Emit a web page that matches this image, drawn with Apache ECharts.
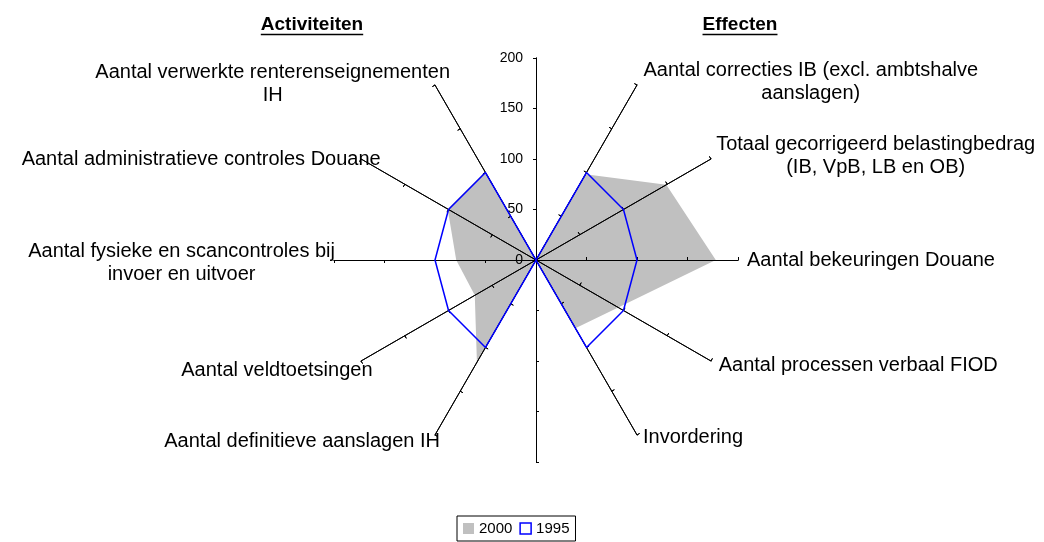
<!DOCTYPE html>
<html>
<head>
<meta charset="utf-8">
<script src="https://cdn.jsdelivr.net/npm/echarts@6/dist/echarts.min.js"></script>
<style>
  html, body { margin: 0; padding: 0; background: #fff; }
  #chart { width: 1044px; height: 542px; }
</style>
</head>
<body>
<div id="chart"></div>
<script>
// spokes clockwise from the top, as in the original; the two vertical spokes carry no name
const categories = [
  '',
  'Aantal correcties IB (excl. ambtshalve\naanslagen)',
  'Totaal gecorrigeerd belastingbedrag\n(IB, VpB, LB en OB)',
  'Aantal bekeuringen Douane',
  'Aantal processen verbaal FIOD',
  'Invordering',
  '',
  'Aantal definitieve aanslagen IH',
  'Aantal veldtoetsingen',
  'Aantal fysieke en scancontroles bij\ninvoer en uitvoer',
  'Aantal administratieve controles Douane',
  'Aantal verwerkte renterenseignementen\nIH'
];
const values2000 = [0, 98, 149, 178, 94, 78, 0, 117, 70, 79, 101, 101];
const values1995 = [0, 100, 100, 100, 100, 100, 0, 100, 100, 100, 100, 100];
const axisMax = 200;
const axisStep = 50;
const titles = ['Activiteiten', 'Effecten'];

const FONT = '"Liberation Sans", Arial, sans-serif';
// echarts lays radar spokes out counter-clockwise, so flip everything after the first
const ccw = arr => [arr[0]].concat(arr.slice(1).reverse());

// excel puts the names a bit off the spoke direction; nudge them [dx, dy]
const nameGaps = [0, 7, 6, 9, 9, 8, 0, 0, -4, 1, -10, -8];
const nameNudge = [[0, 0], [3, 3], [0, 0], [0, 0], [0, 0], [2, -4],
                   [0, 0], [5, 7], [8, 11], [2, 3], [11, -5], [11, -8]];
const nudgePadding = i => {
  const [dx, dy] = nameNudge[i];
  const top = Math.max(2 * dy, 0), bottom = Math.max(-2 * dy, 0);
  // right half is left-aligned, left half right-aligned
  return i < 6 ? [top, 0, bottom, dx] : [top, -dx, bottom, 0];
};

const measure = (text, font) => {
  const ctx = document.createElement('canvas').getContext('2d');
  ctx.font = font;
  return ctx.measureText(text).width;
};

function makeRadar(withNames, tickInside) {
  return {
    center: [536, 260],
    radius: 202,
    startAngle: 90,
    splitNumber: axisMax / axisStep,
    shape: 'polygon',
    z: 2,
    indicator: ccw(categories.map((name, i) => ({
      name: withNames ? name : '',
      min: 0,
      max: axisMax,
      nameGap: nameGaps[i],
      nameTextStyle: { padding: nudgePadding(i) },
      axisLabel: (withNames && i === 0)
        ? { show: true, color: '#000', fontSize: 14, fontFamily: FONT, margin: 13 }
        : { show: false }
    }))),
    axisName: {
      show: withNames,
      color: '#000',
      fontSize: 20,
      fontFamily: FONT,
      formatter: name => name ? name.split('\n').map(l => '{c|' + l + '}').join('\n') : '',
      rich: {
        c: { align: 'center', fontSize: 20, lineHeight: 23, fontFamily: FONT, color: '#000' }
      }
    },
    axisLine: { show: true, lineStyle: { color: '#000', width: 1 } },
    axisTick: { show: true, inside: tickInside, length: 3, lineStyle: { color: '#000', width: 1 } },
    axisLabel: { show: false },
    splitLine: { show: false },
    splitArea: { show: false }
  };
}

const titleFont = 'bold 19px "Liberation Sans", Arial, sans-serif';
const titleX = [312, 740];
const titleGraphics = [];
titles.forEach((t, i) => {
  const w = measure(t, titleFont);
  titleGraphics.push({
    type: 'text', left: titleX[i] - w / 2, top: 15,
    style: { text: t, font: titleFont, fill: '#000' }
  });
  titleGraphics.push({
    type: 'line',
    shape: { x1: titleX[i] - w / 2, y1: 34.5, x2: titleX[i] + w / 2, y2: 34.5 },
    style: { stroke: '#000', lineWidth: 1.5 }
  });
});

const chart = echarts.init(document.getElementById('chart'), null, { renderer: 'canvas' });
chart.setOption({
  animation: false,
  backgroundColor: '#fff',
  textStyle: { fontFamily: FONT },
  radar: [makeRadar(true, false), makeRadar(false, true)],
  legend: {
    data: [
      { name: '2000', itemStyle: { color: '#c0c0c0' } },
      { name: '1995', itemStyle: { color: '#fff', borderColor: '#0000ff', borderWidth: 1.5 } }
    ],
    left: 457,
    bottom: 1,
    icon: 'rect',
    itemWidth: 11,
    itemHeight: 11,
    itemGap: 7,
    padding: [5, 6],
    borderColor: '#000',
    borderWidth: 1,
    selectedMode: false,
    textStyle: { fontSize: 15, color: '#000', fontFamily: FONT }
  },
  graphic: titleGraphics,
  series: [
    {
      type: 'radar',
      radarIndex: 0,
      z: 1,
      symbol: 'none',
      silent: true,
      data: [{
        name: '2000',
        value: ccw(values2000),
        itemStyle: { color: '#c0c0c0' },
        lineStyle: { width: 0, color: '#c0c0c0' },
        areaStyle: { color: '#c0c0c0', opacity: 1 }
      }]
    },
    {
      type: 'radar',
      radarIndex: 0,
      z: 3,
      symbol: 'none',
      silent: true,
      data: [{
        name: '1995',
        value: ccw(values1995),
        itemStyle: { color: '#0000ff' },
        lineStyle: { color: '#0000ff', width: 1.5 }
      }]
    }
  ]
});
</script>
</body>
</html>
